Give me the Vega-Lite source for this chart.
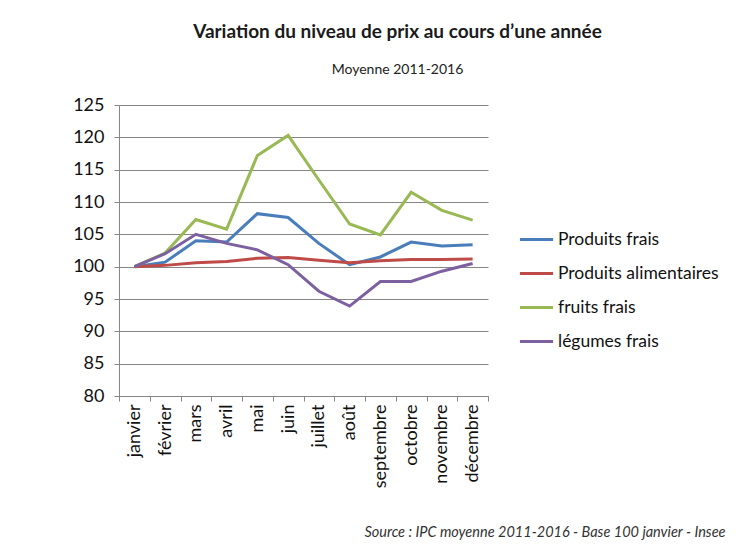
{
  "$schema": "https://vega.github.io/schema/vega-lite/v6.json",
  "width": 369,
  "height": 291,
  "autosize": {"type": "none"},
  "padding": {"left": 119, "top": 105, "right": 256, "bottom": 151},
  "background": "white",
  "title": {
    "text": "Variation du niveau de prix au cours d’une année",
    "subtitle": "Moyenne 2011-2016",
    "anchor": "middle",
    "frame": "group",
    "dx": 94,
    "offset": 19,
    "font": "Lato",
    "fontSize": 19,
    "fontWeight": "bold",
    "color": "#1a1a1a",
    "subtitleFont": "Lato",
    "subtitleFontSize": 14,
    "subtitleColor": "#222",
    "subtitlePadding": 21
  },
  "data": {
    "values": [
      {"mois": "janvier", "serie": "Produits frais", "valeur": 100},
      {"mois": "février", "serie": "Produits frais", "valeur": 100.7},
      {"mois": "mars", "serie": "Produits frais", "valeur": 104},
      {"mois": "avril", "serie": "Produits frais", "valeur": 103.8},
      {"mois": "mai", "serie": "Produits frais", "valeur": 108.2},
      {"mois": "juin", "serie": "Produits frais", "valeur": 107.6},
      {"mois": "juillet", "serie": "Produits frais", "valeur": 103.6},
      {"mois": "août", "serie": "Produits frais", "valeur": 100.3},
      {"mois": "septembre", "serie": "Produits frais", "valeur": 101.5},
      {"mois": "octobre", "serie": "Produits frais", "valeur": 103.8},
      {"mois": "novembre", "serie": "Produits frais", "valeur": 103.2},
      {"mois": "décembre", "serie": "Produits frais", "valeur": 103.4},
      {"mois": "janvier", "serie": "Produits alimentaires", "valeur": 100},
      {"mois": "février", "serie": "Produits alimentaires", "valeur": 100.2},
      {"mois": "mars", "serie": "Produits alimentaires", "valeur": 100.6},
      {"mois": "avril", "serie": "Produits alimentaires", "valeur": 100.8},
      {"mois": "mai", "serie": "Produits alimentaires", "valeur": 101.3},
      {"mois": "juin", "serie": "Produits alimentaires", "valeur": 101.4},
      {"mois": "juillet", "serie": "Produits alimentaires", "valeur": 101.0},
      {"mois": "août", "serie": "Produits alimentaires", "valeur": 100.6},
      {"mois": "septembre", "serie": "Produits alimentaires", "valeur": 100.9},
      {"mois": "octobre", "serie": "Produits alimentaires", "valeur": 101.1},
      {"mois": "novembre", "serie": "Produits alimentaires", "valeur": 101.1},
      {"mois": "décembre", "serie": "Produits alimentaires", "valeur": 101.2},
      {"mois": "janvier", "serie": "fruits frais", "valeur": 100},
      {"mois": "février", "serie": "fruits frais", "valeur": 102.1},
      {"mois": "mars", "serie": "fruits frais", "valeur": 107.3},
      {"mois": "avril", "serie": "fruits frais", "valeur": 105.8},
      {"mois": "mai", "serie": "fruits frais", "valeur": 117.2},
      {"mois": "juin", "serie": "fruits frais", "valeur": 120.3},
      {"mois": "juillet", "serie": "fruits frais", "valeur": 113.4},
      {"mois": "août", "serie": "fruits frais", "valeur": 106.6},
      {"mois": "septembre", "serie": "fruits frais", "valeur": 104.9},
      {"mois": "octobre", "serie": "fruits frais", "valeur": 111.5},
      {"mois": "novembre", "serie": "fruits frais", "valeur": 108.7},
      {"mois": "décembre", "serie": "fruits frais", "valeur": 107.2},
      {"mois": "janvier", "serie": "légumes frais", "valeur": 100},
      {"mois": "février", "serie": "légumes frais", "valeur": 102},
      {"mois": "mars", "serie": "légumes frais", "valeur": 105},
      {"mois": "avril", "serie": "légumes frais", "valeur": 103.6},
      {"mois": "mai", "serie": "légumes frais", "valeur": 102.6},
      {"mois": "juin", "serie": "légumes frais", "valeur": 100.3},
      {"mois": "juillet", "serie": "légumes frais", "valeur": 96.2},
      {"mois": "août", "serie": "légumes frais", "valeur": 93.9},
      {"mois": "septembre", "serie": "légumes frais", "valeur": 97.7},
      {"mois": "octobre", "serie": "légumes frais", "valeur": 97.7},
      {"mois": "novembre", "serie": "légumes frais", "valeur": 99.3},
      {"mois": "décembre", "serie": "légumes frais", "valeur": 100.5}
    ]
  },
  "mark": {"type": "line", "strokeWidth": 3},
  "encoding": {
    "x": {
      "field": "mois",
      "type": "ordinal",
      "sort": ["janvier", "février", "mars", "avril", "mai", "juin", "juillet", "août", "septembre", "octobre", "novembre", "décembre"],
      "scale": {"type": "band", "paddingInner": 0, "paddingOuter": 0},
      "bandPosition": 0.5,
      "axis": {
        "title": "Source : IPC moyenne 2011-2016 - Base 100 janvier - Insee",
        "titleFont": "Lato",
        "titleFontSize": 14.5,
        "titleFontStyle": "italic",
        "titleFontWeight": "normal",
        "titleColor": "#333",
        "titleAlign": "right",
        "titleBaseline": "middle",
        "titleX": 606,
        "titleY": 136,
        "titleLimit": 0,
        "labelAngle": -90,
        "labelAlign": "right",
        "labelBaseline": "middle",
        "labelFont": "Lato",
        "labelFontSize": 18,
        "labelColor": "#111",
        "labelPadding": 3,
        "tickBand": "extent",
        "tickSize": 5,
        "tickColor": "#868686",
        "domainColor": "#868686",
        "grid": false
      }
    },
    "y": {
      "field": "valeur",
      "type": "quantitative",
      "scale": {"domain": [80, 125], "nice": false, "zero": false},
      "axis": {
        "title": null,
        "values": [80, 85, 90, 95, 100, 105, 110, 115, 120, 125],
        "labelFont": "Lato",
        "labelFontSize": 18,
        "labelColor": "#111",
        "labelPadding": 10,
        "tickSize": 5,
        "tickColor": "#868686",
        "domainColor": "#868686",
        "grid": true,
        "gridColor": "#868686",
        "gridWidth": 1
      }
    },
    "color": {
      "field": "serie",
      "type": "nominal",
      "sort": ["Produits frais", "Produits alimentaires", "fruits frais", "légumes frais"],
      "scale": {
        "domain": ["Produits frais", "Produits alimentaires", "fruits frais", "légumes frais"],
        "range": ["#4A7EBB", "#BE4B48", "#98B954", "#7D60A0"]
      },
      "legend": {
        "title": null,
        "orient": "none",
        "legendX": 399,
        "legendY": 116,
        "symbolType": "stroke",
        "symbolSize": 1100,
        "symbolStrokeWidth": 3,
        "labelFont": "Lato",
        "labelFontSize": 17.5,
        "labelLimit": 0,
        "labelColor": "#111",
        "labelOffset": 3,
        "rowPadding": 7
      }
    }
  },
  "config": {
    "view": {"stroke": null}
  }
}
